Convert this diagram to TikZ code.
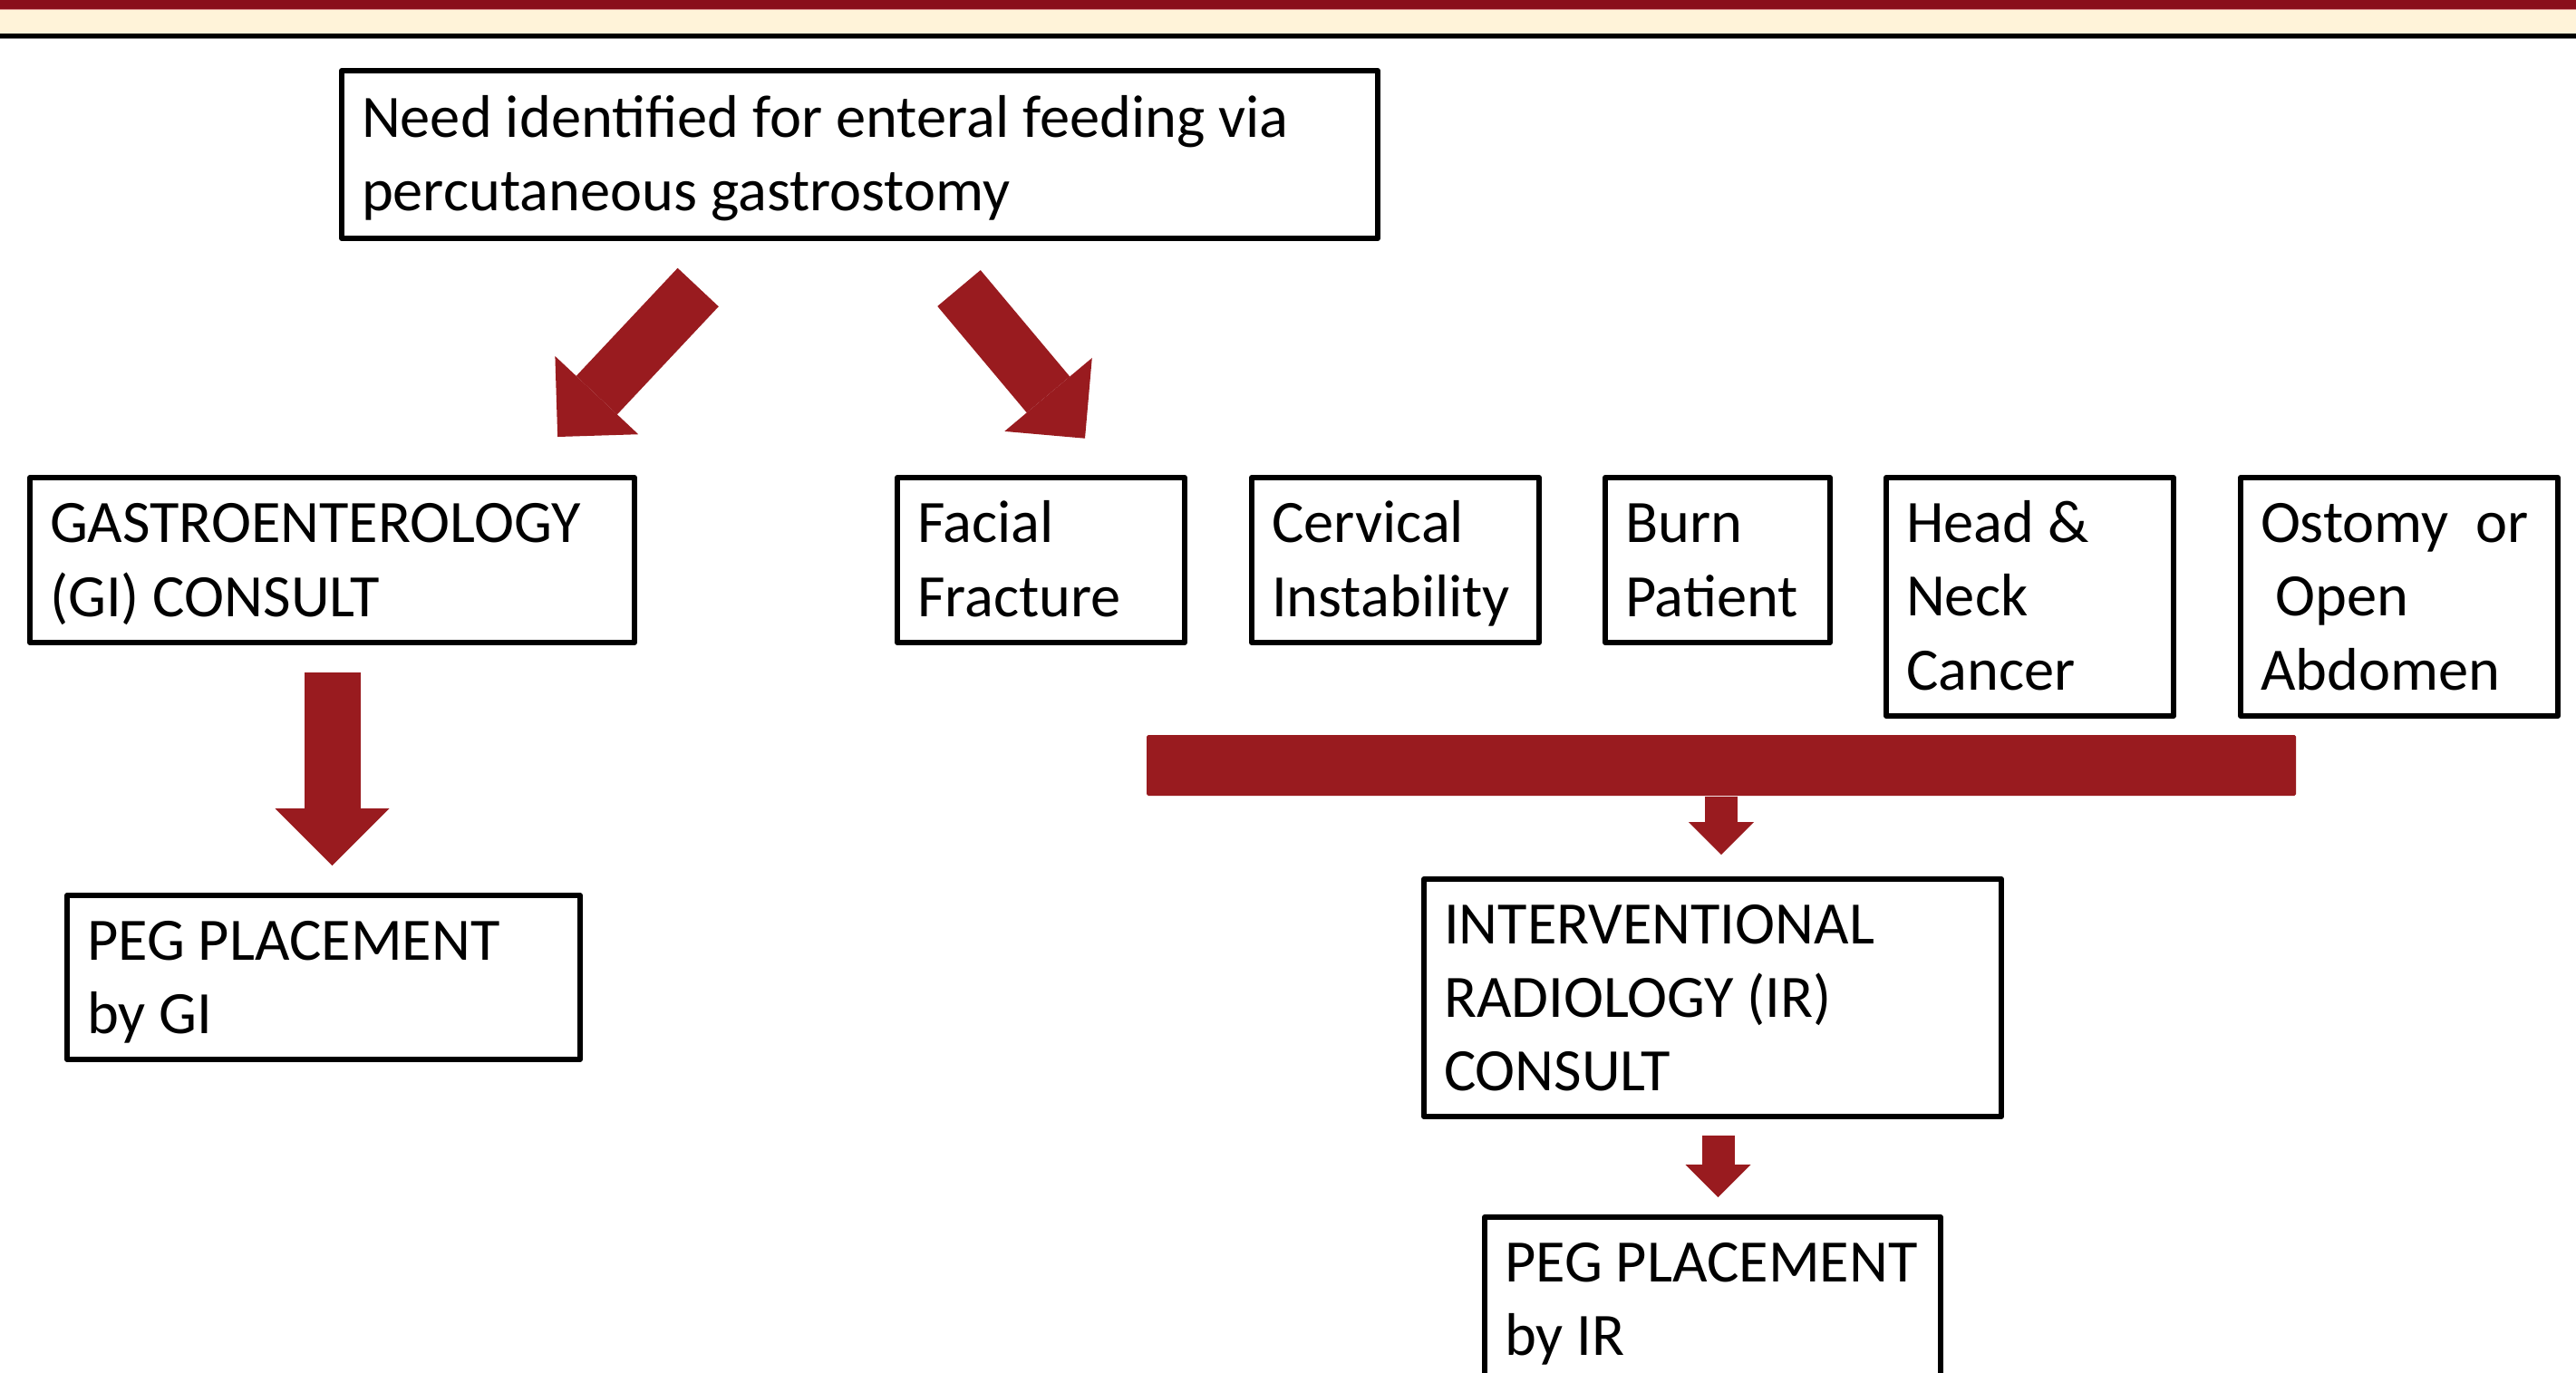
\documentclass[tikz,border=0pt]{standalone}
\usepackage{fontspec}
\setmainfont{Carlito}
\usetikzlibrary{arrows.meta,calc}
\definecolor{cBand}{HTML}{8A0F1B}
\definecolor{cBandLine}{HTML}{D98C8C}
\definecolor{cCream}{HTML}{FFF3D9}
\definecolor{cArrow}{HTML}{991B1F}
\newcommand{\topstrut}{\rule{0pt}{17.2pt}}
\newcommand{\botstrut}{\rule[-5pt]{0pt}{5pt}}
\tikzset{
  box/.style={draw=black,fill=white,line width=1.7pt,line join=round,align=flush left,
              inner xsep=2.2mm,inner ysep=0pt,font=\fontsize{18.9}{23.1}\selectfont,
              execute at begin node=\topstrut,execute at end node=\botstrut},
  bigflow/.style={draw=cArrow,line width=6.2mm,
                  -{Triangle[length=6.3mm,width=12.6mm,line width=0pt]}},
  smallflow/.style={draw=cArrow,line width=3.6mm,
                    -{Triangle[length=3.6mm,width=7.2mm,line width=0pt]}},
  mergebar/.style={fill=cArrow,rounded corners=0.5pt,inner sep=0pt,
                   minimum width=12.68cm,minimum height=6.7mm}
}

\begin{document}
\begin{tikzpicture}
  \clip (0,0) rectangle (28.42,15.14);
  \fill[white] (0,0) rectangle (28.42,15.14);

  % Header band.
  \fill[cBand] (0,15.04) rectangle (28.42,15.14);
  \fill[cBandLine] (0,15.03) rectangle (28.42,15.04);
  \fill[cCream] (0,14.77) rectangle (28.42,15.03);
  \fill[black] (0,14.72) rectangle (28.42,14.77);
  \fill[gray] (0,14.71) rectangle (28.42,14.72);

  % Top: referral need and the two routes.
  \node[box,text width=10.99cm,minimum height=1.85cm] (need) at (9.485,13.435)
    {Need identified for enteral feeding via\\percutaneous gastrostomy};
  \node[box,text width=6.23cm,minimum height=1.82cm] (gi) at (3.665,8.96)
    {GASTROENTEROLOGY\\(GI) CONSULT};
  \node[box,text width=5.22cm,minimum height=1.81cm] (pegGI) at (3.57,4.355)
    {PEG PLACEMENT\\by GI};

  \node[box,text width=2.73cm,minimum height=1.82cm] (facial) at (11.485,8.96)
    {Facial\\Fracture};
  \node[box,text width=2.73cm,minimum height=1.82cm] (cervical) at (15.395,8.96)
    {Cervical\\Instability};
  \node[box,text width=2.04cm,minimum height=1.82cm] (burn) at (18.95,8.96)
    {Burn\\Patient};
  \node[box,text width=2.73cm,minimum height=2.63cm] (headneck) at (22.395,8.555)
    {Head \&\\Neck\\Cancer};
  \node[box,text width=3.06cm,minimum height=2.63cm] (ostomy) at (26.47,8.555)
    {\mbox{Ostomy\hspace{0.45em}or}\\\hspace*{0.25em}Open\\Abdomen};

  \node[mergebar] (merge) at (18.99,6.695) {};
  \node[box,text width=5.93cm,minimum height=2.62cm] (ir) at (18.895,4.13)
    {INTERVENTIONAL\\RADIOLOGY (IR)\\CONSULT};
  \node[box,text width=4.59cm,minimum height=1.81cm] (pegIR) at (18.895,0.805)
    {PEG PLACEMENT\\by IR};

  % Block arrows.
  \draw[bigflow] ($(need.south west)+(3.962,-0.51)$) -- ($(gi.north east)+(-0.878,0.42)$);
  \draw[bigflow] ($(need.south west)+(6.84,-0.52)$) -- ($(facial.north)+(0.485,0.403)$);
  \draw[bigflow] ($(gi.south)+(0,-0.30)$) -- ($(gi.south |- pegGI.north)+(0,0.30)$);
  \draw[smallflow] (merge.south) -- ($(merge.south |- ir.north)+(0,0.24)$);
  \draw[smallflow] ($(ir.south)+(0.06,-0.18)$) -- ($(ir.south |- pegIR.north)+(0.06,0.19)$);
\end{tikzpicture}
\end{document}
